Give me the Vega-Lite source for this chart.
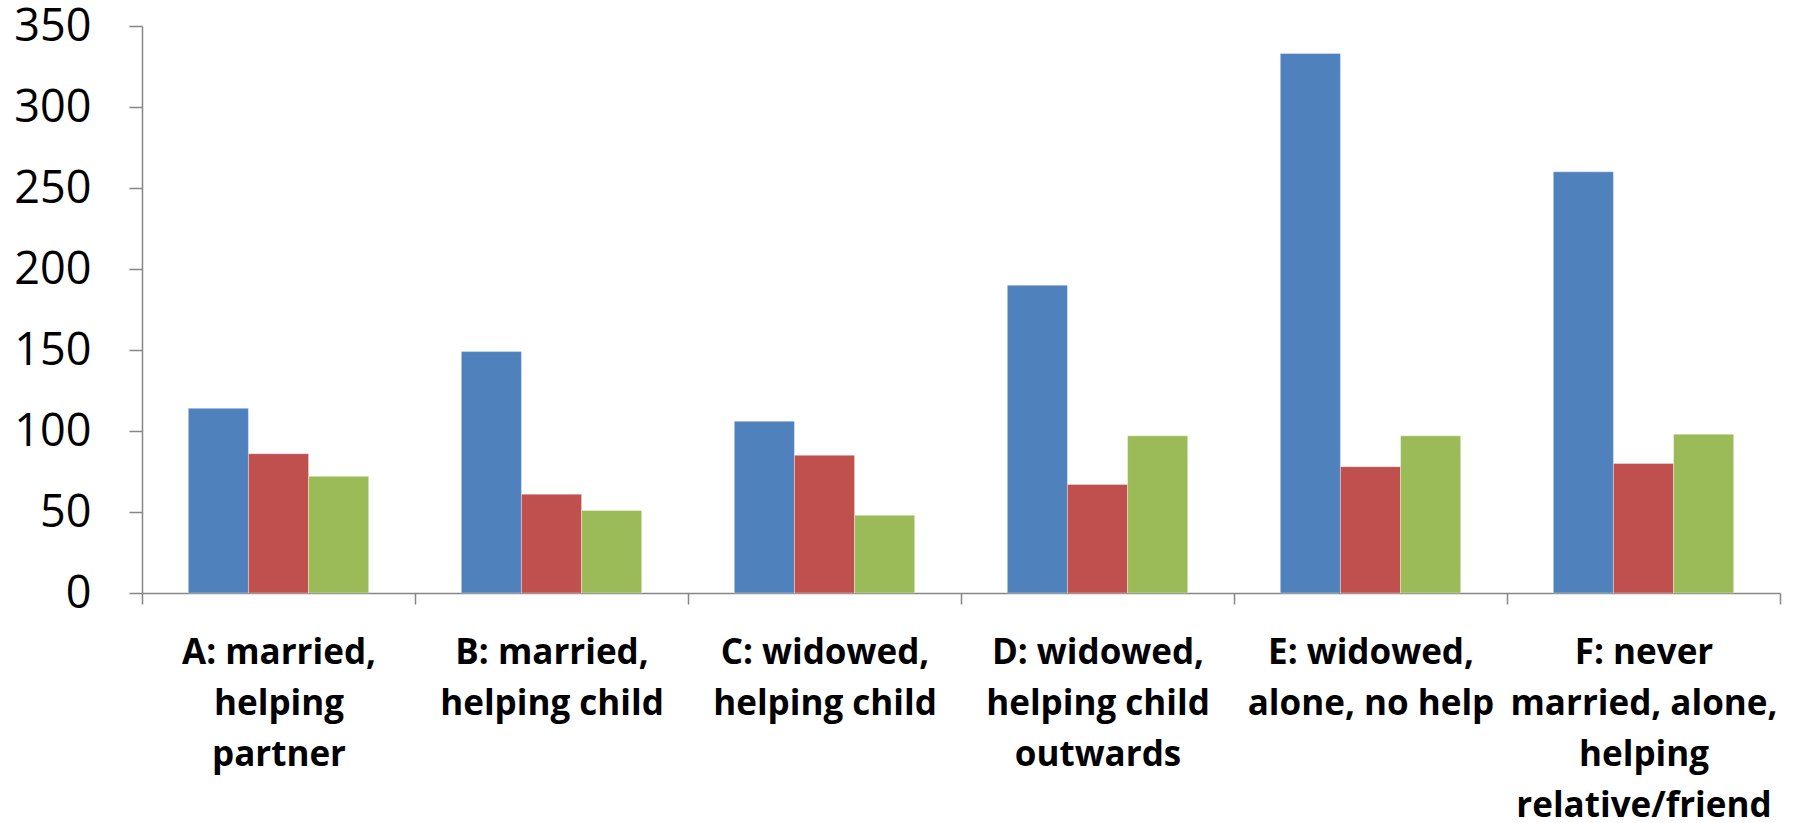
{
  "$schema": "https://vega.github.io/schema/vega-lite/v6.json",
  "autosize": "none",
  "width": 1638,
  "height": 567,
  "padding": {"left": 142, "top": 26, "right": 13, "bottom": 230},
  "background": "white",
  "data": {
    "values": [
      {"scenario": "A: married,\nhelping\npartner", "series": "Series 1", "value": 114},
      {"scenario": "A: married,\nhelping\npartner", "series": "Series 2", "value": 86},
      {"scenario": "A: married,\nhelping\npartner", "series": "Series 3", "value": 72},
      {"scenario": "B: married,\nhelping child", "series": "Series 1", "value": 149},
      {"scenario": "B: married,\nhelping child", "series": "Series 2", "value": 61},
      {"scenario": "B: married,\nhelping child", "series": "Series 3", "value": 51},
      {"scenario": "C: widowed,\nhelping child", "series": "Series 1", "value": 106},
      {"scenario": "C: widowed,\nhelping child", "series": "Series 2", "value": 85},
      {"scenario": "C: widowed,\nhelping child", "series": "Series 3", "value": 48},
      {"scenario": "D: widowed,\nhelping child\noutwards", "series": "Series 1", "value": 190},
      {"scenario": "D: widowed,\nhelping child\noutwards", "series": "Series 2", "value": 67},
      {"scenario": "D: widowed,\nhelping child\noutwards", "series": "Series 3", "value": 97},
      {"scenario": "E: widowed,\nalone, no help", "series": "Series 1", "value": 333},
      {"scenario": "E: widowed,\nalone, no help", "series": "Series 2", "value": 78},
      {"scenario": "E: widowed,\nalone, no help", "series": "Series 3", "value": 97},
      {"scenario": "F: never\nmarried, alone,\nhelping\nrelative/friend", "series": "Series 1", "value": 260},
      {"scenario": "F: never\nmarried, alone,\nhelping\nrelative/friend", "series": "Series 2", "value": 80},
      {"scenario": "F: never\nmarried, alone,\nhelping\nrelative/friend", "series": "Series 3", "value": 98}
    ]
  },
  "config": {
    "view": {"stroke": null},
    "axis": {"grid": false, "domainColor": "#868686", "tickColor": "#868686", "domainWidth": 1.5, "tickWidth": 1.5}
  },
  "mark": {"type": "bar", "stroke": "white", "strokeOpacity": 0.35, "strokeWidth": 1},
  "encoding": {
    "x": {
      "field": "scenario",
      "type": "nominal",
      "sort": null,
      "scale": {"paddingInner": 0, "paddingOuter": 0},
      "axis": {
        "title": null,
        "labelAngle": 0,
        "tickBand": "extent",
        "tickSize": 11,
        "labelPadding": 31,
        "labelBaseline": "top",
        "labelFont": "Open Sans",
        "labelFontWeight": "bold",
        "labelFontSize": 35,
        "labelLineHeight": 51,
        "labelColor": "#000000",
        "labelLimit": 400,
        "labelExpr": "isValid(datum.value) ? split(datum.value, '\\n') : ''"
      }
    },
    "xOffset": {
      "field": "series",
      "type": "nominal",
      "scale": {"paddingInner": 0, "paddingOuter": 0.77}
    },
    "y": {
      "field": "value",
      "type": "quantitative",
      "scale": {"domain": [0, 350], "nice": false},
      "axis": {
        "title": null,
        "values": [0, 50, 100, 150, 200, 250, 300, 350],
        "tickSize": 13,
        "labelPadding": 38,
        "labelFont": "Open Sans",
        "labelFontSize": 45,
        "labelColor": "#000000"
      }
    },
    "color": {
      "field": "series",
      "type": "nominal",
      "scale": {"domain": ["Series 1", "Series 2", "Series 3"], "range": ["#4F81BD", "#C0504D", "#9BBB59"]},
      "legend": null
    }
  }
}
